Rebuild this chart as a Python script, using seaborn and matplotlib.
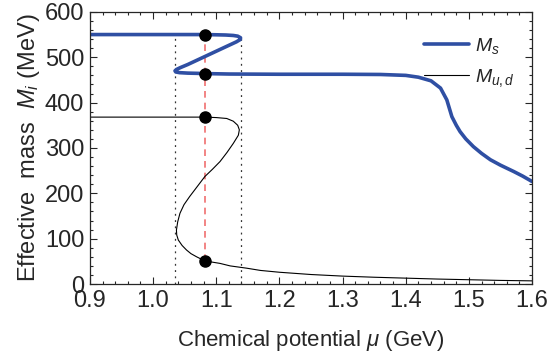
import numpy as np
import pandas as pd
import matplotlib
matplotlib.use("Agg")
import matplotlib.pyplot as plt
from matplotlib.ticker import MultipleLocator
import seaborn as sns

# --- data (curves are multi-valued, so listed in path order) ---
ms_mu = [0.90, 1.00, 1.06, 1.082, 1.10, 1.115, 1.127, 1.134, 1.1385, 1.138, 1.132,
         1.115, 1.095, 1.075, 1.055, 1.043, 1.037, 1.0347, 1.036, 1.042, 1.055, 1.07,
         1.082, 1.12, 1.20, 1.30, 1.36, 1.40, 1.42, 1.44, 1.455, 1.465, 1.473,
         1.48, 1.486, 1.495, 1.507, 1.52, 1.534, 1.55, 1.571, 1.585, 1.60]
ms_M = [550, 550, 550, 550, 549.5, 549, 548, 546.5, 543, 539, 534,
        523, 510, 497, 484, 477, 473, 470, 467.5, 466, 465, 464.5,
        464, 463, 462.5, 462.5, 462, 460, 456, 448, 432, 406, 369,
        350, 336, 320, 303, 288, 274, 262, 248, 238, 226]

mud_mu = [0.90, 1.00, 1.06, 1.082, 1.10, 1.1166, 1.127, 1.134, 1.1366, 1.135, 1.127,
          1.117, 1.106, 1.094, 1.082, 1.07, 1.058, 1.049, 1.0426, 1.039, 1.037,
          1.0375, 1.040, 1.046, 1.053, 1.06, 1.069, 1.082, 1.106, 1.122, 1.148,
          1.17, 1.20, 1.25, 1.30, 1.35, 1.40, 1.45, 1.50, 1.55, 1.60]
mud_M = [368, 368, 368, 368, 367, 365, 359, 350, 340, 328, 310,
         290, 270, 253, 237, 215, 193, 175, 156, 137, 119,
         108, 97, 85, 75, 67, 60, 51, 45.5, 40, 35,
         30, 26, 21, 17.5, 15, 13, 11, 9.5, 8, 7]

# first-order transition: spinodal points and Maxwell point
spinodal_mu = [1.0347, 1.1388]
spinodal_top = 545
maxwell_mu = 1.082
dots_M = [550, 464, 368, 51]

ms_df = pd.DataFrame({"mu": ms_mu, "M": ms_M})
mud_df = pd.DataFrame({"mu": mud_mu, "M": mud_M})

sns.set_style("ticks")
plt.rcParams["font.family"] = ["Liberation Sans", "DejaVu Sans"]
plt.rcParams["mathtext.fontset"] = "custom"
plt.rcParams["mathtext.rm"] = "Liberation Sans"
plt.rcParams["mathtext.it"] = "Liberation Sans:italic"

fig, ax = plt.subplots(figsize=(5.48, 3.6), dpi=100)
fig.subplots_adjust(left=0.164, right=0.971, top=0.967, bottom=0.211)

# spinodal lines
ax.vlines(spinodal_mu, 0, spinodal_top, colors="#333333", linestyles=(0, (1.5, 3.5)), linewidth=0.9)
# Maxwell construction
ax.vlines(maxwell_mu, min(dots_M), max(dots_M), colors="#f07070", linestyles=(0, (4, 3)), linewidth=1.2)

sns.lineplot(data=ms_df, x="mu", y="M", sort=False, estimator=None, errorbar=None,
             color="#2f4fa3", linewidth=2.6, label=r"$M_s$", ax=ax)
sns.lineplot(data=mud_df, x="mu", y="M", sort=False, estimator=None, errorbar=None,
             color="black", linewidth=0.8, label=r"$M_{u,d}$", ax=ax)

ax.plot([maxwell_mu] * len(dots_M), dots_M, "o", color="black", markersize=8, zorder=5)

ax.set_xlim(0.9, 1.6)
ax.set_ylim(0, 600)
ax.xaxis.set_major_locator(MultipleLocator(0.1))
ax.xaxis.set_minor_locator(MultipleLocator(0.02))
ax.yaxis.set_major_locator(MultipleLocator(100))
ax.yaxis.set_minor_locator(MultipleLocator(20))
ax.set_xticklabels([f"{v:.1f}" for v in ax.get_xticks()])
ax.tick_params(which="both", direction="in", top=True, right=True, labelsize=17, width=0.8)
ax.tick_params(which="major", length=5)
ax.tick_params(which="minor", length=2.5)
ax.tick_params(axis="x", which="major", pad=4)
ax.tick_params(axis="y", which="major", pad=4)
for s in ax.spines.values():
    s.set_linewidth(0.9)

ax.set_xlabel(r"Chemical potential $\mu$ (GeV)", fontsize=16, labelpad=12)
ax.set_ylabel(r"Effective  mass  $M_i$ (MeV)", fontsize=17, labelpad=2)

ax.legend(loc="upper right", bbox_to_anchor=(1.0, 0.975), frameon=False, fontsize=14,
          handlelength=2.3, handletextpad=0.3, labelspacing=0.55)

fig.savefig("out.png", dpi=100)
